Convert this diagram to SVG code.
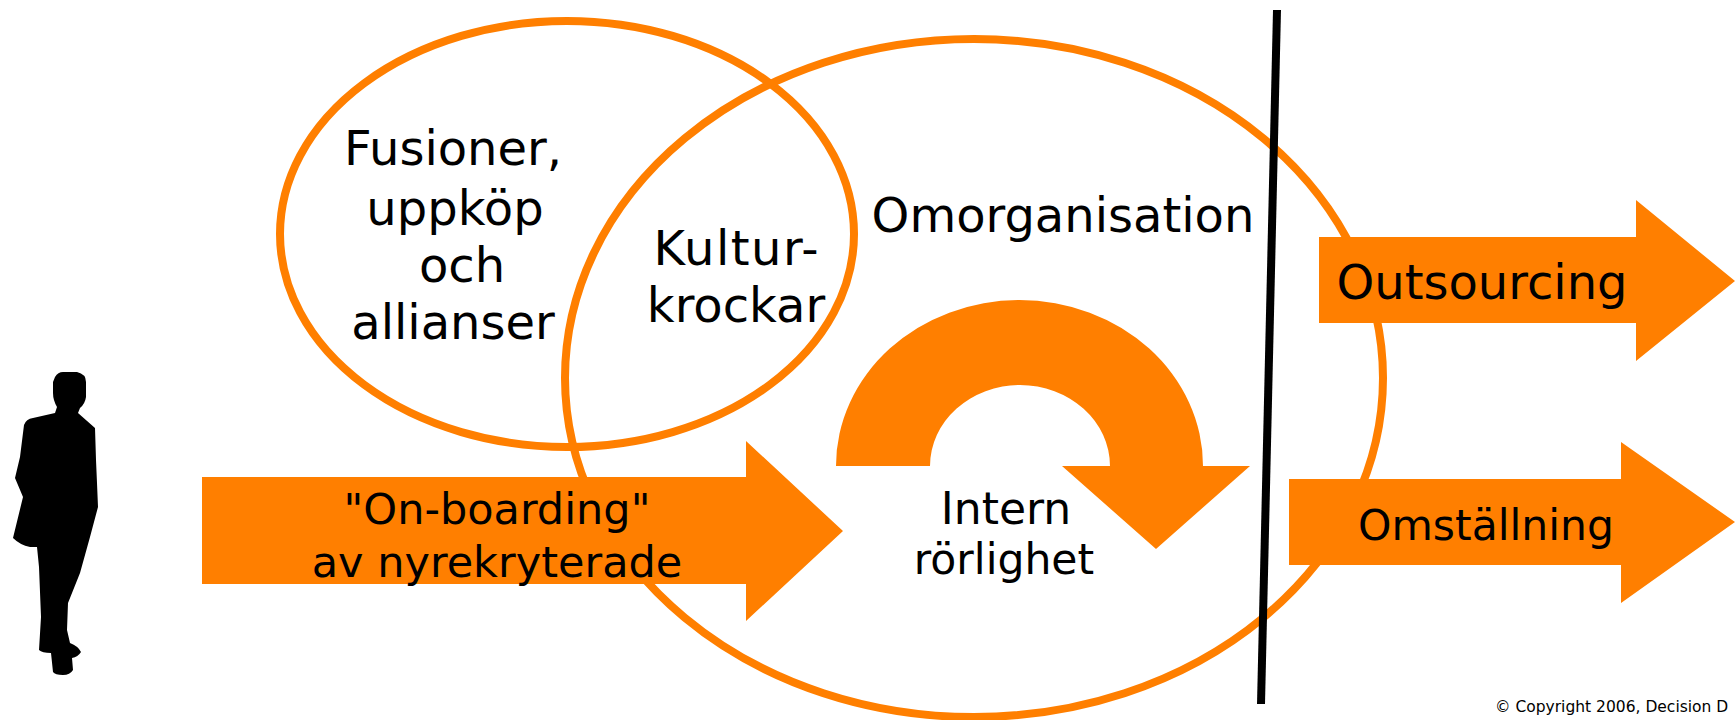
<svg xmlns="http://www.w3.org/2000/svg" width="1735" height="720" viewBox="0 0 1735 720">
<style>
.o{fill:#ff7f00}
.r{fill:none;stroke:#ff7f00;stroke-width:8}
text{font-family:"DejaVu Sans",Verdana,sans-serif;font-size:48px;fill:#000;text-anchor:middle}
.m{font-size:43px}
.n{font-size:42.500px}
.q{font-style:italic}
</style>
<rect width="1735" height="720" fill="#fff"/>
<g id="person"><path d="M55 377Q58 372 63 372L77 372Q86 374 86 382L86 397Q85 404 80 408L78 413L95 428L96 460L97 483L98 507L90 537L80 573L68 603L67 630L70 643Q78 646 81 652Q78 657 72 658L73 670Q70 675 63 675Q55 675 53 672L51 653Q42 653 39 650L41 617L39 567L37 547L30 547Q20 545 13 538L23 497L15 478L20 457L24 425Q26 419 33 418L55 413L57 407Q53 400 53 393L53 382Z"/></g>
<g id="fusioner"><ellipse class="r" cx="567" cy="234" rx="287" ry="213"/></g>
<g id="omorganisation"><ellipse class="r" cx="974" cy="378" rx="409" ry="339"/></g>
<g id="intern-arrow"><path class="o" d="M836 466A183.500 166 0 0 1 1203 466H1250L1156 549L1062 466H1110A90 81 0 0 0 930 466Z"/></g>
<g id="onboarding"><path class="o" d="M202 477H746V441L843 531L746 621V584H202Z"/></g>
<g id="outsourcing"><path class="o" d="M1319 237H1636V200L1735 281L1636 361V323H1319Z"/></g>
<g id="omstallning"><path class="o" d="M1289 479H1621V442L1735 522L1621 603V565H1289Z"/></g>
<g id="connectors"><path d="M1277 10L1261 704" fill="none" stroke="#000" stroke-width="8"/></g>
<text x="453" y="165">Fusioner,</text><text x="455" y="225">uppköp</text><text x="462" y="282">och</text><text x="453" y="339">allianser</text>
<text x="736" y="265" textLength="165" lengthAdjust="spacing">Kultur-</text><text x="736" y="322">krockar</text>
<text x="1063" y="232">Omorganisation</text>
<text x="1482" y="299">Outsourcing</text>
<text x="1486" y="540" class="n">Omställning</text>
<text x="497" y="524" class="m"><tspan class="q">"</tspan>On-boarding<tspan class="q">"</tspan></text><text x="497" y="577" class="m">av nyrekryterade</text>
<text x="1006" y="524" style="font-size:44px">Intern</text><text x="1004" y="574" class="n">rörlighet</text>
<text x="1495" y="712" style="font-size:15.500px;text-anchor:start">© Copyright 2006, Decision D</text>
</svg>
